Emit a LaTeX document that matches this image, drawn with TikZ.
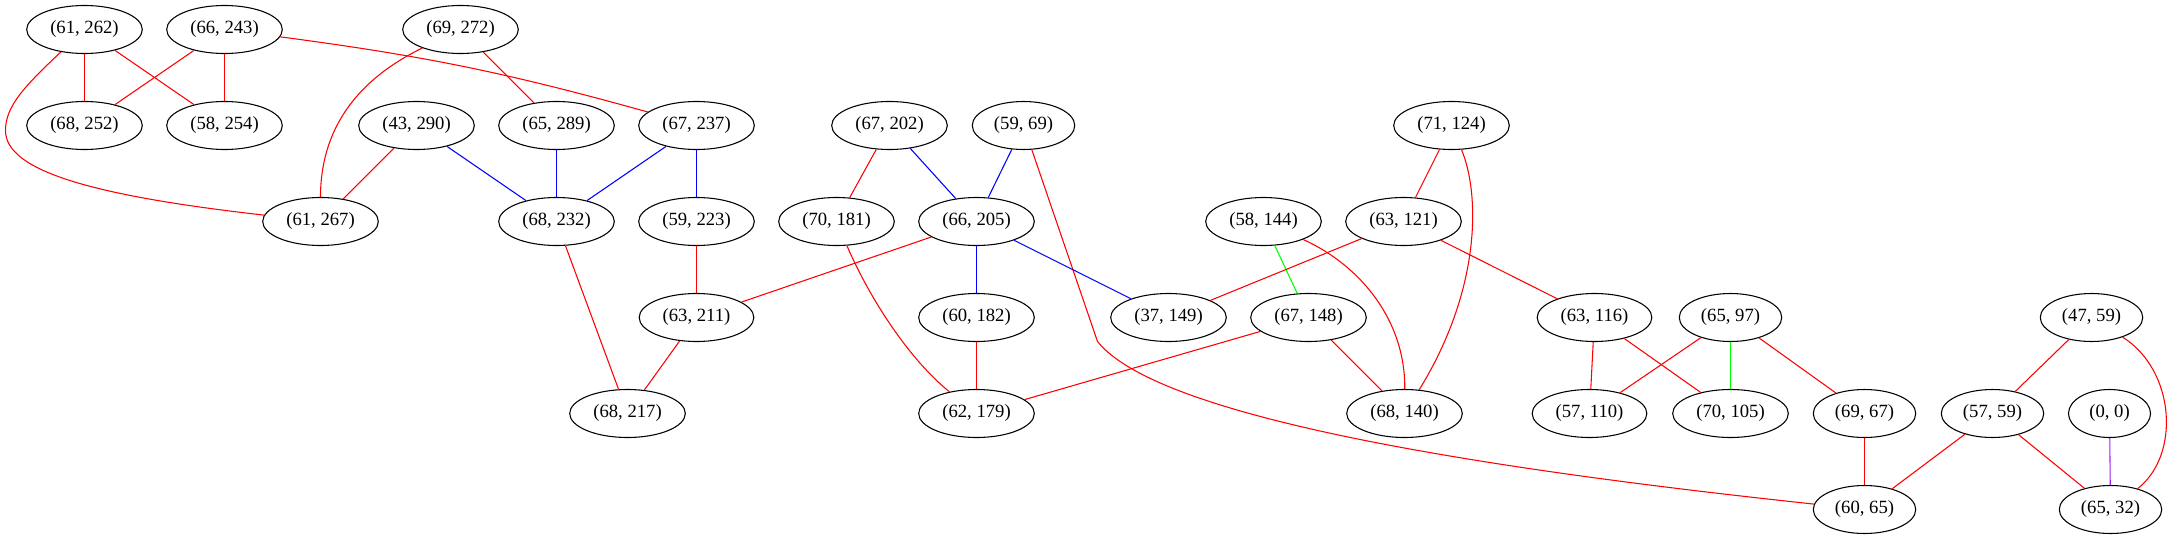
\documentclass[tikz,border=0pt]{standalone}
\usepackage{fontspec}
\setmainfont{Liberation Serif}
\usepackage{xcolor}
\usepackage{tikz}
\usetikzlibrary{shapes.geometric}
\definecolor{gvpurple}{HTML}{A020F0}
\definecolor{gvgreen}{HTML}{00FF00}
\tikzset{oval/.style={ellipse,draw,line width=0.8pt,minimum height=36pt,minimum width=61.5pt,inner xsep=5pt,font=\fontsize{14pt}{16pt}\selectfont}}

\begin{document}
\begin{tikzpicture}[x=0.75pt,y=-0.75pt,line width=0.8pt]
    \useasboundingbox (0,0) rectangle (2174,539);
    \begin{scope}[shift={(0.5,0.5)}]
    \node[oval] (a) at (84,29) {(61, 262)};
    \node[oval] (b) at (224,29) {(66, 243)};
    \node[oval] (c) at (460,29) {(69, 272)};
    \node[oval] (d) at (84,125) {(68, 252)};
    \node[oval] (e) at (224,125) {(58, 254)};
    \node[oval] (f) at (416,125) {(43, 290)};
    \node[oval] (g) at (556,125) {(65, 289)};
    \node[oval] (h) at (696,125) {(67, 237)};
    \node[oval] (i) at (889,125) {(67, 202)};
    \node[oval] (j) at (1023,125) {(59, 69)};
    \node[oval] (k) at (1451,125) {(71, 124)};
    \node[oval] (l) at (320,221) {(61, 267)};
    \node[oval] (m) at (556,221) {(68, 232)};
    \node[oval] (n) at (696,221) {(59, 223)};
    \node[oval] (o) at (836,221) {(70, 181)};
    \node[oval] (p) at (976,221) {(66, 205)};
    \node[oval] (q) at (1263,221) {(58, 144)};
    \node[oval] (r) at (1403,221) {(63, 121)};
    \node[oval] (s) at (696,317) {(63, 211)};
    \node[oval] (t) at (976,317) {(60, 182)};
    \node[oval] (u) at (1168,317) {(37, 149)};
    \node[oval] (v) at (1308,317) {(67, 148)};
    \node[oval] (w) at (1594,317) {(63, 116)};
    \node[oval] (x) at (1730,317) {(65, 97)};
    \node[oval] (y) at (2091,317) {(47, 59)};
    \node[oval] (z) at (627,413) {(68, 217)};
    \node[oval] (aa) at (976,413) {(62, 179)};
    \node[oval] (ab) at (1404,413) {(68, 140)};
    \node[oval] (ac) at (1589,413) {(57, 110)};
    \node[oval] (ad) at (1730,413) {(70, 105)};
    \node[oval] (ae) at (1864,413) {(69, 67)};
    \node[oval] (af) at (1992,413) {(57, 59)};
    \node[oval] (ag) at (2109,413) {(0, 0)};
    \node[oval] (ah) at (1864,509) {(60, 65)};
    \node[oval] (ai) at (2110,509) {(65, 32)};

    \draw [red] (a) to [] (d);
    \draw [red] (a) to [] (e);
    \draw [red] (a) .. controls (25,85) and (5,105) .. (5,130) .. controls (5,170) and (90,195) .. (l);
    \draw [red] (b) to [] (d);
    \draw [red] (b) to [] (e);
    \draw [red] (b) to [bend left=4] (h);
    \draw [red] (c) .. controls (355,80) and (320,130) .. (l);
    \draw [red] (c) to [] (g);
    \draw [red] (f) to [] (l);
    \draw [blue] (f) to [] (m);
    \draw [blue] (g) to [] (m);
    \draw [blue] (h) to [] (m);
    \draw [blue] (h) to [] (n);
    \draw [red] (i) to [] (o);
    \draw [blue] (i) to [] (p);
    \draw [blue] (j) to [] (p);
    \draw [red] (j) -- (1097,341) .. controls (1160,420) and (1500,470) .. (ah);
    \draw [red] (o) .. controls (870,300) and (910,360) .. (aa);
    \draw [red] (p) to [] (s);
    \draw [blue] (p) to [] (t);
    \draw [blue] (p) to [] (u);
    \draw [red] (n) to [] (s);
    \draw [red] (m) to [] (z);
    \draw [red] (s) to [] (z);
    \draw [red] (t) to [] (aa);
    \draw [gvgreen] (q) to [] (v);
    \draw [red] (q) .. controls (1360,265) and (1405,320) .. (ab);
    \draw [red] (r) to [] (u);
    \draw [red] (r) to [] (w);
    \draw [red] (k) to [] (r);
    \draw [red] (k) .. controls (1480,195) and (1480,290) .. (ab);
    \draw [red] (v) to [] (aa);
    \draw [red] (v) to [] (ab);
    \draw [red] (w) to [] (ac);
    \draw [red] (w) to [] (ad);
    \draw [red] (x) to [] (ac);
    \draw [gvgreen] (x) to [] (ad);
    \draw [red] (x) to [] (ae);
    \draw [red] (ae) to [] (ah);
    \draw [red] (af) to [] (ah);
    \draw [red] (af) to [] (ai);
    \draw [red] (y) to [] (af);
    \draw [red] (y) .. controls (2175,370) and (2180,455) .. (ai);
    \draw [gvpurple] (ag) to [] (ai);
    \end{scope}
\end{tikzpicture}
\end{document}
